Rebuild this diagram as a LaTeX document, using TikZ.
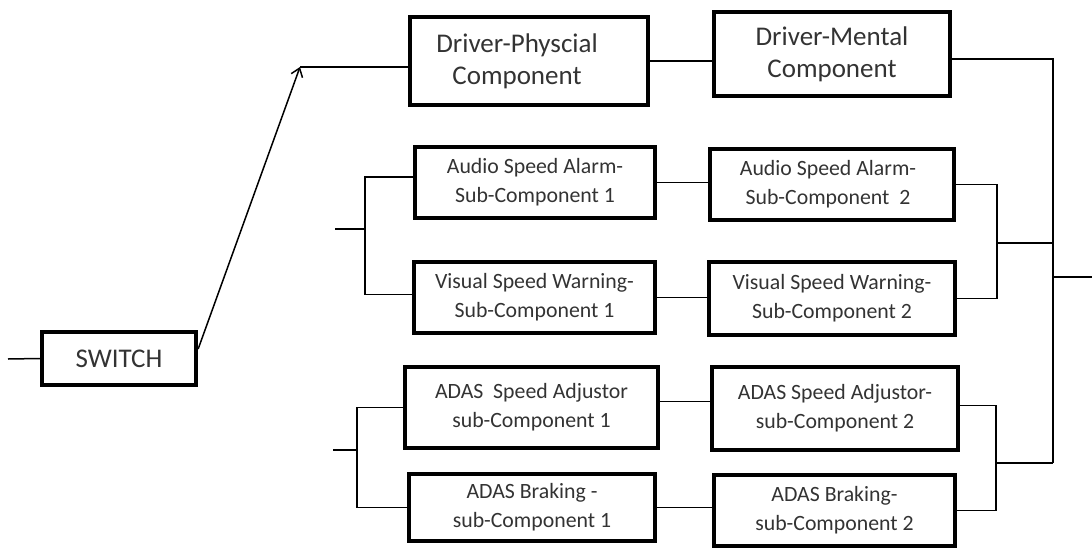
\documentclass[tikz,border=0pt]{standalone}
\usepackage{fontspec}
\setmainfont{Carlito}
\usetikzlibrary{arrows.meta}

\begin{document}
\begin{tikzpicture}[x=1pt,y=-1pt,
    blk/.style={draw,line width=4.3pt,align=center,inner sep=0pt,text=black!80},
    big/.style={font=\fontsize{27}{32}\selectfont},
    small/.style={font=\fontsize{21.8}{29}\selectfont},
    wire/.style={line width=1.5pt}]
    \useasboundingbox (0,0) rectangle (1092,554);

    % blocks
    \node[blk,big,minimum width=154pt,minimum height=53pt] (sw) at (119,358.5) {SWITCH};
    \node[blk,big,minimum width=238pt,minimum height=88pt] (phys) at (529,61) {Driver-Physcial\hspace*{24pt}\\Component\hspace*{24pt}};
    \node[blk,big,minimum width=236pt,minimum height=84pt] (ment) at (832,54) {Driver-Mental\\Component};
    \node[blk,small,minimum width=240pt,minimum height=71pt] (aud1) at (535,182.5) {Audio Speed Alarm-\\Sub-Component 1};
    \node[blk,small,minimum width=244pt,minimum height=71pt] (aud2) at (832,184.5) {Audio Speed Alarm-\hspace*{8pt}\\Sub-Component~~2\hspace*{8pt}};
    \node[blk,small,minimum width=241pt,minimum height=71pt] (vis1) at (534.5,297.5) {Visual Speed Warning-\\Sub-Component 1};
    \node[blk,small,minimum width=246pt,minimum height=73pt] (vis2) at (832,298.5) {Visual Speed Warning-\\Sub-Component 2};
    \node[blk,small,minimum width=253pt,minimum height=81pt] (adj1) at (531.5,407.5) {ADAS~~Speed Adjustor\\sub-Component 1};
    \node[blk,small,minimum width=246pt,minimum height=83pt] (adj2) at (835,408.5) {ADAS Speed Adjustor-\\sub-Component 2};
    \node[blk,small,minimum width=246pt,minimum height=67pt] (brk1) at (532,507.5) {ADAS Braking -\\sub-Component 1};
    \node[blk,small,minimum width=241pt,minimum height=71pt] (brk2) at (834.5,510.5) {ADAS Braking-\\sub-Component 2};

    % free ends and junctions
    \coordinate (in) at (8,359);
    \coordinate (tip) at (300,67);
    \coordinate (rbus) at (1053,463);
    \coordinate (out) at (1092,277);
    \coordinate (lin1) at (335,229);
    \coordinate (lbus1) at (365,229);
    \coordinate (lin2) at (333,450);
    \coordinate (lbus2) at (357,450);
    \coordinate (rj1) at (997,243);
    \coordinate (rj2) at (996,463);

    % switch and top branch
    \draw[wire] (in) -- (sw.west);
    \draw[wire,-{Straight Barb[length=8pt,width=12pt]}] ([yshift=9.5pt]sw.east) -- (tip);
    \draw[wire] (tip) -- (tip -| phys.west);
    \draw[wire] (phys.east) -- (phys.east -| ment.west);
    \draw[wire] ([yshift=-5pt]ment.east) -| (rbus);
    \draw[wire] (out -| rbus) -- (out);

    % speed alarm / warning branch
    \draw[wire] (lin1) -- (lbus1);
    \draw[wire] ([yshift=5.5pt]aud1.west) -| (lbus1) |- ([yshift=3pt]vis1.west);
    \draw[wire] (aud1.east) -- (aud1.east -| aud2.west);
    \draw[wire] (vis1.east) -- (vis1.east -| vis2.west);
    \draw[wire] (aud2.east) -| (rj1) |- (vis2.east);
    \draw[wire] (rj1) -- (rj1 -| rbus);

    % ADAS branch
    \draw[wire] (lin2) -- (lbus2);
    \draw[wire] (adj1.west) -| (lbus2) |- (brk1.west);
    \draw[wire] ([yshift=6pt]adj1.east) -- ([yshift=6pt]adj1.east -| adj2.west);
    \draw[wire] (brk1.east) -- (brk1.east -| brk2.west);
    \draw[wire] ([yshift=3pt]adj2.east) -| (rj2) |- (brk2.east);
    \draw[wire] (rj2) -- (rbus);
\end{tikzpicture}
\end{document}
